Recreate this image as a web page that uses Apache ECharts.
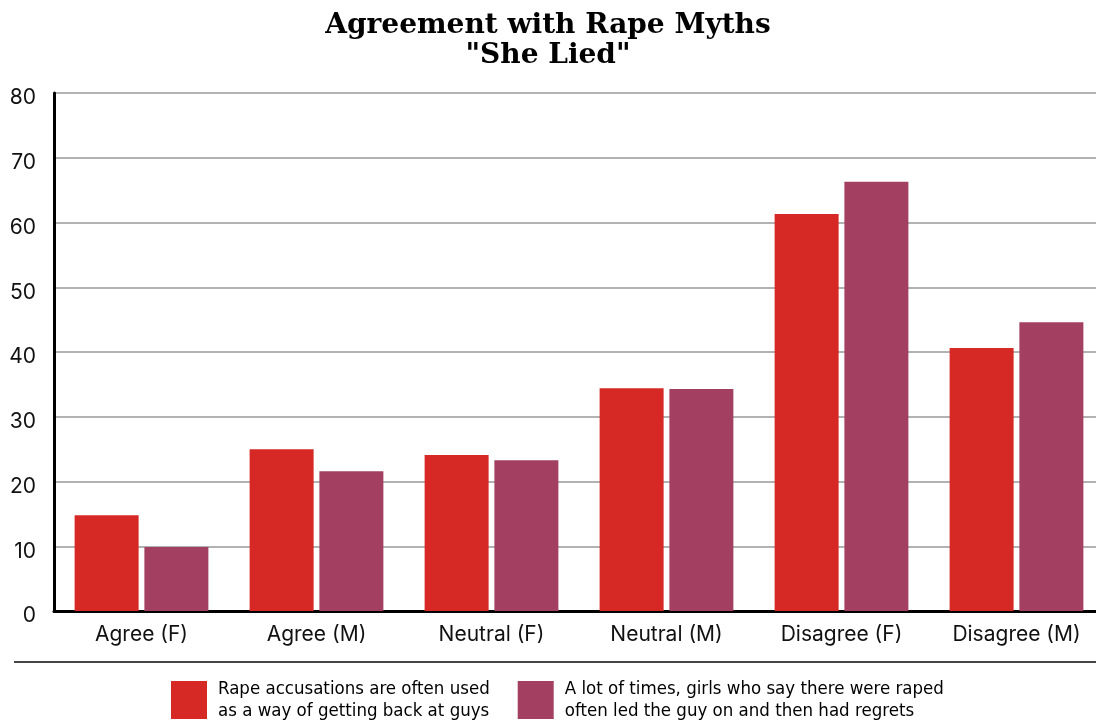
<!DOCTYPE html>
<html>
<head>
<meta charset="utf-8">
<script src="https://cdn.jsdelivr.net/npm/echarts@6/dist/echarts.min.js"></script>
<style>
  html, body { margin: 0; padding: 0; background: #fff; }
  #chart { width: 1096px; height: 722px; }
</style>
</head>
<body>
<div id="chart"></div>
<script>
    // data
    var categories = ['Agree (F)', 'Agree (M)', 'Neutral (F)', 'Neutral (M)', 'Disagree (F)', 'Disagree (M)'];
    var seriesNames = [
        'Rape accusations are often used\nas a way of getting back at guys',
        'A lot of times, girls who say there were raped\noften led the guy on and then had regrets'
    ];
    var backAtGuys = [14.8, 25.0, 24.1, 34.4, 61.3, 40.6];
    var ledOn = [9.9, 21.6, 23.3, 34.3, 66.3, 44.6];
    var yTicks = [0, 10, 20, 30, 40, 50, 60, 70, 80];

    var myChart = echarts.init(document.getElementById('chart'));
    var option = {
        backgroundColor: '#fff',
        title: {
            text: 'Agreement with Rape Myths\n"She Lied"',
            left: 'center',
            top: 6,
            textStyle: {
                fontFamily: 'DejaVu Serif',
                fontWeight: 900,
                fontSize: 28,
                lineHeight: 30,
                color: '#000'
            }
        },
        legend: {
            left: 166,
            top: 673,
            itemWidth: 36,
            itemHeight: 38,
            itemGap: 28,
            icon: 'rect',
            textStyle: {
                fontFamily: 'DejaVu Sans Condensed',
                fontSize: 18.5,
                lineHeight: 22,
                color: '#000',
                padding: [0, 0, 0, 6]
            }
        },
        grid: {
            left: 54,
            right: -8,
            top: 93,
            bottom: 111,
            outerBoundsMode: 'none'
        },
        xAxis: {
            type: 'category',
            data: categories,
            axisTick: { show: false },
            axisLine: { lineStyle: { color: '#000', width: 3 } },
            axisLabel: {
                fontFamily: 'Inter',
                fontSize: 21,
                color: '#111',
                margin: 13
            }
        },
        yAxis: {
            type: 'value',
            min: yTicks[0],
            max: yTicks[yTicks.length - 1],
            interval: 10,
            axisLine: { show: true, lineStyle: { color: '#000', width: 3 } },
            axisTick: { show: false },
            splitLine: { lineStyle: { color: '#999', width: 1.5 } },
            axisLabel: {
                fontFamily: 'Inter',
                fontSize: 21,
                color: '#111',
                margin: 18,
                verticalAlign: 'top',
                lineHeight: 10
            }
        },
        series: [
            {
                name: seriesNames[0],
                type: 'bar',
                barWidth: 64,
                barGap: '9%',
                itemStyle: { color: '#D62825' },
                data: backAtGuys
            },
            {
                name: seriesNames[1],
                type: 'bar',
                barWidth: 64,
                barGap: '9%',
                itemStyle: { color: '#A33F61' },
                data: ledOn
            }
        ],
        graphic: [
            {
                type: 'line',
                shape: { x1: 14, y1: 662, x2: 1096, y2: 662 },
                style: { stroke: '#444', lineWidth: 2 }
            }
        ]
    };
    myChart.setOption(option);
</script>
</body>
</html>
